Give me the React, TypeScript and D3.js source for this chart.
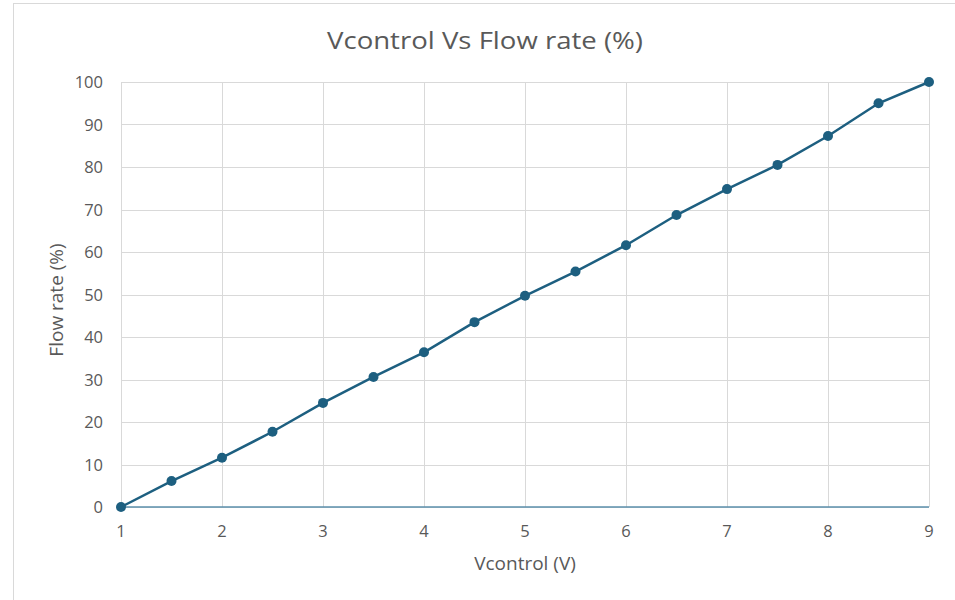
import React from "react";
import * as d3 from "d3";

const vcontrol = [1, 1.5, 2, 2.5, 3, 3.5, 4, 4.5, 5, 5.5, 6, 6.5, 7, 7.5, 8, 8.5, 9];
const flowRate = [0, 6.1, 11.6, 17.7, 24.5, 30.6, 36.4, 43.5, 49.7, 55.4, 61.6, 68.7, 74.8, 80.5, 87.3, 95, 100];
const xTicks = [1, 2, 3, 4, 5, 6, 7, 8, 9];
const yTicks = [0, 10, 20, 30, 40, 50, 60, 70, 80, 90, 100];

const W = 955, H = 600;
const font = "'Open Sans', 'Liberation Sans', sans-serif";
const textColor = "#595959";
const series = "#1d5f80";

export default function App() {
  const x = d3.scaleLinear().domain([1, 9]).range([121, 929]);
  const y = d3.scaleLinear().domain([0, 100]).range([507, 82]);
  const pts = vcontrol.map((v, i) => [v, flowRate[i]] as [number, number]);
  const line = d3.line<[number, number]>().x(d => x(d[0])).y(d => y(d[1]));
  return (
    <svg width={W} height={H} style={{ position: "absolute", left: 0, top: 0, background: "#fff" }}>
      <rect x={0} y={0} width={W} height={H} fill="#fff" />
      <rect x={13.5} y={3.5} width={W} height={H + 10} fill="#fff" stroke="#d9d9d9" strokeWidth={1} />
      <text x={485} y={49} textAnchor="middle" fontFamily={font} fontSize={24} fill={textColor} textLength={316} lengthAdjust="spacingAndGlyphs">
        Vcontrol Vs Flow rate (%)
      </text>
      {yTicks.map(t => (
        <line key={"gy" + t} x1={x(1)} x2={x(9)} y1={Math.round(y(t)) + 0.5} y2={Math.round(y(t)) + 0.5} stroke="#d9d9d9" strokeWidth={1} />
      ))}
      {xTicks.map(t => (
        <line key={"gx" + t} x1={Math.round(x(t)) + 0.5} x2={Math.round(x(t)) + 0.5} y1={y(100)} y2={y(0)} stroke="#d9d9d9" strokeWidth={1} />
      ))}
      <line x1={x(1)} x2={x(9)} y1={y(0)} y2={y(0)} stroke="#5b8fab" strokeWidth={1.5} />
      {yTicks.map(t => (
        <text key={"ty" + t} x={103} y={y(t) + 6} textAnchor="end" fontFamily={font} fontSize={16.5} fill={textColor}>
          {t}
        </text>
      ))}
      {xTicks.map(t => (
        <text key={"tx" + t} x={x(t)} y={537} textAnchor="middle" fontFamily={font} fontSize={16.5} fill={textColor}>
          {t}
        </text>
      ))}
      <text x={525} y={570} textAnchor="middle" fontFamily={font} fontSize={19} fill={textColor}>
        Vcontrol (V)
      </text>
      <text transform={`translate(63,300) rotate(-90)`} textAnchor="middle" fontFamily={font} fontSize={19} fill={textColor}>
        Flow rate (%)
      </text>
      <path d={line(pts) || ""} fill="none" stroke={series} strokeWidth={2.5} />
      {pts.map((p, i) => (
        <circle key={"p" + i} cx={x(p[0])} cy={y(p[1])} r={5} fill={series} />
      ))}
    </svg>
  );
}
